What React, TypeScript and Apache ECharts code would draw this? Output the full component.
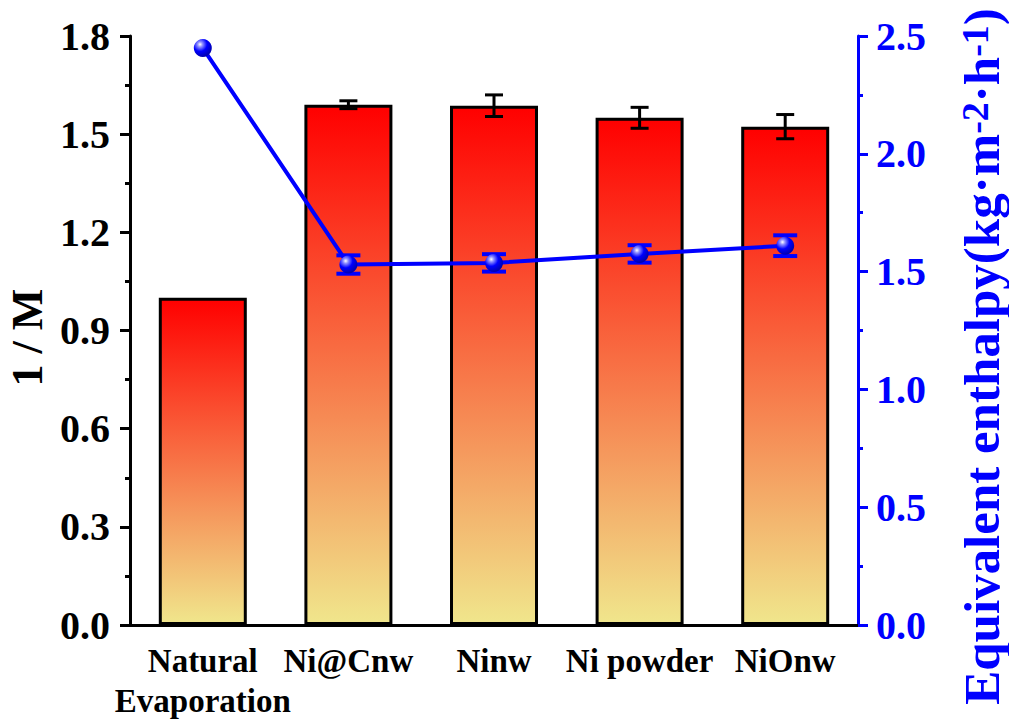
import React, { useEffect, useRef } from "react";
import * as echarts from "echarts";

const categories = ["Natural\nEvaporation", "Ni@Cnw", "Ninw", "Ni powder", "NiOnw"];
const invM = [1.0, 1.59, 1.587, 1.55, 1.523];
const invMErr = [0, 0.012, 0.033, 0.032, 0.037];
const enthalpy = [2.449, 1.53, 1.537, 1.575, 1.61];
const enthalpyErr = [0, 0.039, 0.037, 0.037, 0.044];
const leftTicks = { min: 0, max: 1.8, interval: 0.3 };
const rightTicks = { min: 0, max: 2.5, interval: 0.5 };

const FONT = "Liberation Serif";
const BLUE = "#0000FF";

function errorRender(color: string, cap: number, width: number) {
  return (params: any, api: any) => {
    const x = api.value(0);
    const v = api.value(1);
    const e = api.value(2);
    if (!e) return null;
    const top = api.coord([x, v + e]);
    const bot = api.coord([x, v - e]);
    const style = { stroke: color, lineWidth: width };
    return {
      type: "group",
      children: [
        { type: "line", shape: { x1: top[0], y1: top[1], x2: bot[0], y2: bot[1] }, style },
        { type: "line", shape: { x1: top[0] - cap / 2, y1: top[1], x2: top[0] + cap / 2, y2: top[1] }, style },
        { type: "line", shape: { x1: bot[0] - cap / 2, y1: bot[1], x2: bot[0] + cap / 2, y2: bot[1] }, style },
      ],
    };
  };
}

export default function App() {
  const ref = useRef<HTMLDivElement>(null);
  useEffect(() => {
    if (!ref.current) return;
    const chart = echarts.init(ref.current, null, { renderer: "svg" });
    const option: any = {
      animation: false,
      textStyle: { fontFamily: FONT },
      grid: { left: 130, right: 151, top: 36, bottom: 99, containLabel: false, outerBoundsMode: "none" },
      xAxis: [
        {
          type: "category",
          data: categories,
          axisLine: { lineStyle: { color: "#000", width: 3 } },
          axisTick: { alignWithLabel: true, length: 10, lineStyle: { color: "#000", width: 3 } },
          axisLabel: {
            interval: 0,
            fontSize: 33,
            fontWeight: "bold",
            fontFamily: FONT,
            color: "#000",
            lineHeight: 40,
            margin: 16,
          },
        },
        {
          type: "category",
          position: "top",
          data: categories,
          axisLine: { lineStyle: { color: "#000", width: 3 } },
          axisTick: { show: false },
          axisLabel: { show: false },
        },
      ],
      yAxis: [
        {
          type: "value",
          position: "left",
          ...leftTicks,
          name: "1 / M",
          nameLocation: "middle",
          nameGap: 79,
          nameTextStyle: { fontSize: 44, fontWeight: "bold", fontFamily: FONT, color: "#000", padding: [0, 14, 0, 0] },
          axisLine: { show: true, lineStyle: { color: "#000", width: 3 } },
          axisTick: { show: true, length: 10, lineStyle: { color: "#000", width: 3 } },
          minorTick: { show: true, splitNumber: 2, length: 5, lineStyle: { color: "#000", width: 3 } },
          splitLine: { show: false },
          axisLabel: {
            formatter: (v: number) => v.toFixed(1),
            fontSize: 40,
            fontWeight: "bold",
            fontFamily: FONT,
            color: "#000",
            margin: 20,
          },
        },
        {
          type: "value",
          position: "right",
          ...rightTicks,
          name: "Equivalent enthalpy(kg·m{sup|-2}·h{sup|-1})",
          nameLocation: "middle",
          nameGap: 98,
          nameRotate: 90,
          nameTextStyle: {
            fontSize: 51,
            fontWeight: "bold",
            fontFamily: FONT,
            color: BLUE,
            lineHeight: 51,
            padding: [0, 52, 0, 0],
            rich: {
              sup: {
                fontSize: 38,
                fontWeight: "bold",
                fontFamily: FONT,
                color: BLUE,
                verticalAlign: "top",
                lineHeight: 40,
              },
            },
          },
          axisLine: { show: true, lineStyle: { color: BLUE, width: 3 } },
          axisTick: { show: true, length: 10, lineStyle: { color: BLUE, width: 3 } },
          minorTick: { show: true, splitNumber: 2, length: 5, lineStyle: { color: BLUE, width: 3 } },
          splitLine: { show: false },
          axisLabel: {
            formatter: (v: number) => v.toFixed(1),
            fontSize: 40,
            fontWeight: "bold",
            fontFamily: FONT,
            color: BLUE,
            margin: 18,
          },
        },
      ],
      series: [
        {
          type: "bar",
          xAxisIndex: 0,
          yAxisIndex: 0,
          data: invM,
          barWidth: 88,
          z: 2,
          itemStyle: {
            color: new echarts.graphic.LinearGradient(0, 0, 0, 1, [
              { offset: 0, color: "#FF0000" },
              { offset: 1, color: "#F0E68C" },
            ]),
            borderColor: "#000",
            borderWidth: 3,
          },
        },
        {
          type: "custom",
          xAxisIndex: 0,
          yAxisIndex: 0,
          z: 3,
          encode: { x: 0, y: 1 },
          data: invM.map((v, i) => [i, v, invMErr[i]]),
          renderItem: errorRender("#000", 18, 3),
        },
        {
          type: "custom",
          xAxisIndex: 0,
          yAxisIndex: 1,
          z: 4,
          encode: { x: 0, y: 1 },
          data: enthalpy.map((v, i) => [i, v, enthalpyErr[i]]),
          renderItem: errorRender(BLUE, 24, 4),
        },
        {
          type: "line",
          xAxisIndex: 0,
          yAxisIndex: 1,
          data: enthalpy,
          z: 5,
          symbol: "circle",
          symbolSize: 18,
          lineStyle: { color: BLUE, width: 4 },
          itemStyle: {
            color: new echarts.graphic.RadialGradient(0.35, 0.3, 0.7, [
              { offset: 0, color: "#FFFFFF" },
              { offset: 0.2, color: "#9090FF" },
              { offset: 0.55, color: "#0000FF" },
              { offset: 1, color: "#0000B0" },
            ]),
          },
        },
      ],
    };
    chart.setOption(option);
    return () => chart.dispose();
  }, []);
  return (
    <div
      ref={ref}
      style={{ position: "absolute", left: 0, top: 0, width: 1009, height: 724, background: "#fff" }}
    />
  );
}
